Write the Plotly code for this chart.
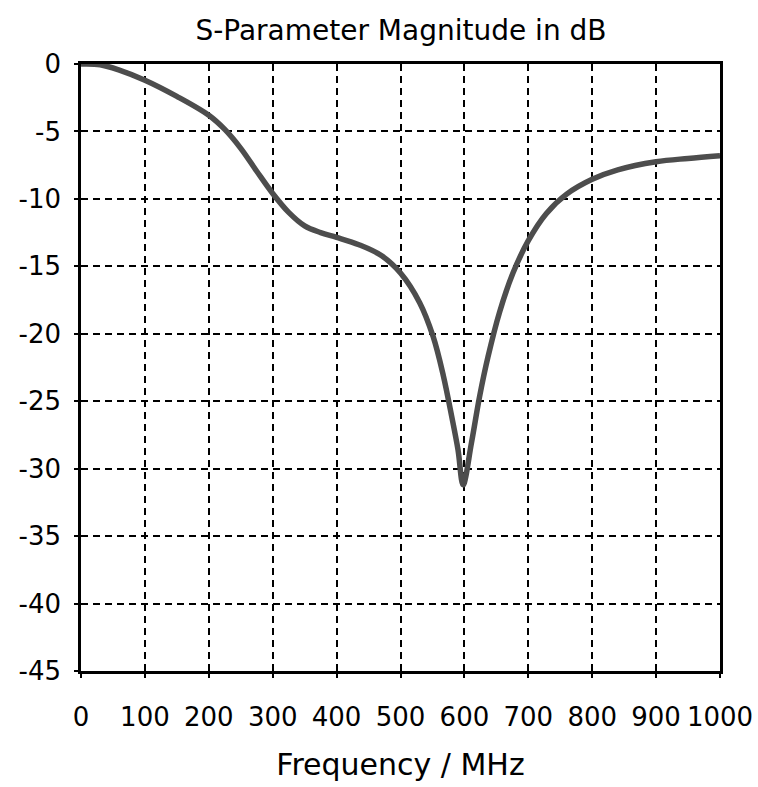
import plotly.graph_objects as go

freq_mhz = [0, 30, 60, 100, 150, 200, 225, 250, 275, 300, 325, 350, 375, 400, 435,
            470, 500, 530, 551, 567, 580, 590, 598, 611, 624, 637, 655, 676, 700,
            728, 760, 800, 840, 900, 950, 1000]
s_db = [0, -0.05, -0.45, -1.2, -2.4, -3.8, -4.85, -6.25, -7.95, -9.6, -11.0, -12.0,
        -12.5, -12.85, -13.4, -14.2, -15.5, -17.7, -20.2, -23.1, -26.1, -28.6,
        -31.2, -28.1, -24.6, -21.7, -18.4, -15.5, -13.1, -11.1, -9.65, -8.55,
        -7.85, -7.25, -7.0, -6.8]

x_ticks = list(range(0, 1001, 100))
y_ticks = list(range(0, -46, -5))

FONT = "DejaVu Sans"

fig = go.Figure()
fig.add_trace(go.Scatter(
    x=freq_mhz, y=s_db, mode="lines",
    line=dict(color="#4d4d4d", width=5.5, shape="spline", smoothing=1.0),
    showlegend=False,
))

grid_common = dict(
    showgrid=True, gridcolor="black", gridwidth=2, griddash="7px,5px",
    showline=True, linecolor="black", linewidth=2.5, mirror=True,
    ticks="outside", ticklen=4, tickcolor="black", tickwidth=2,
    zeroline=False, automargin=False,
    tickfont=dict(family=FONT, size=26, color="black"),
)

fig.update_xaxes(range=[0, 1000], tickvals=x_ticks,
                 ticktext=[str(v) for v in x_ticks],
                 ticklabelstandoff=17,
                 title=dict(text="Frequency / MHz", font=dict(family=FONT, size=30, color="black"), standoff=24),
                 **grid_common)
fig.update_yaxes(range=[-45, 0], tickvals=y_ticks,
                 ticktext=[str(v) for v in y_ticks],
                 ticklabelstandoff=8,
                 **grid_common)

fig.update_layout(
    width=758, height=787,
    margin=dict(l=81, r=38, t=64, b=116),
    paper_bgcolor="white", plot_bgcolor="white",
    title=dict(text="S-Parameter Magnitude in dB", x=0.529, xanchor="center",
               y=0.962, yanchor="middle",
               font=dict(family=FONT, size=28, color="black")),
)

fig.write_html("out.html")
